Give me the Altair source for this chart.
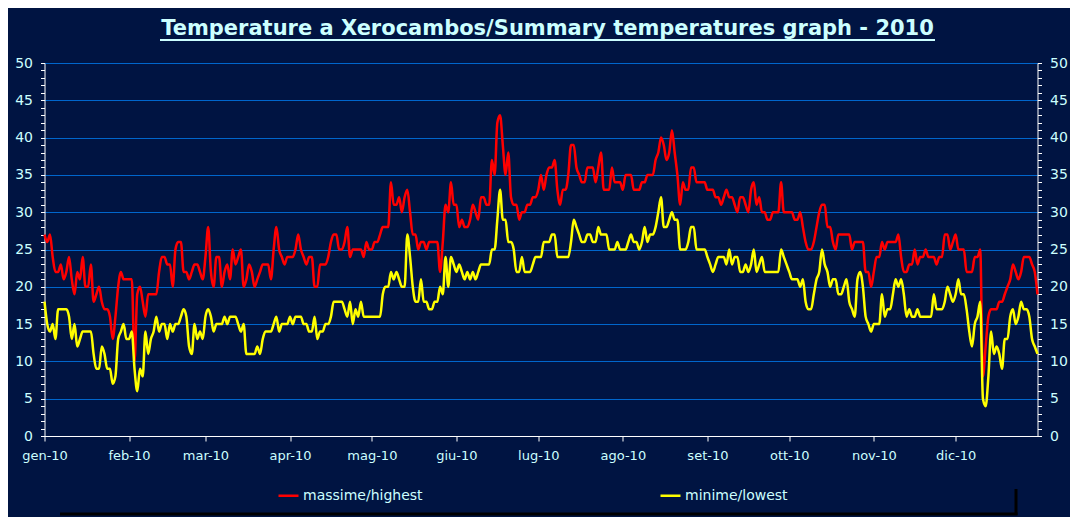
import altair as alt
import pandas as pd

TITLE = "Temperature a Xerocambos/Summary temperatures graph - 2010"
SERIES = ["massime/highest", "minime/lowest"]
COLORS = ["#FF0000", "#FFFF00"]
MONTH_LABELS = ["gen-10", "feb-10", "mar-10", "apr-10", "mag-10", "giu-10",
                "lug-10", "ago-10", "set-10", "ott-10", "nov-10", "dic-10"]

# daily maxima (red), one list per month
high_gen = [27,26,27,24,22,22,23,21,22,24,21,19,22,21,24,20,20,23,18,19,20,18,17,17,16,13,16,20,22,21,21]
high_feb = [21,21,10,19,20,18,16,19,19,19,19,22,24,24,23,23,20,25,26,26,22,22,21,22,23,23,22,21]
high_mar = [24,28,22,20,24,24,20,22,23,21,25,23,24,25,20,21,23,22,20,21,22,23,23,23,21,25,28,25,24,23,24]
high_apr = [24,24,25,27,25,24,23,24,24,20,20,23,23,23,24,26,27,27,25,25,26,28,24,25,25,25,25,24,26,25]
high_mag = [25,26,26,27,28,28,28,34,31,31,32,30,32,33,30,27,27,25,26,26,25,26,26,26,26,22,26,31,30,34,31]
high_giu = [31,28,29,28,28,29,31,30,29,32,32,31,31,37,35,42,43,39,35,38,32,31,31,29,30,30,31,31,32,32]
high_lug = [33,35,33,35,36,36,37,33,31,33,33,35,39,39,36,35,34,34,36,36,36,34,36,38,33,33,33,36,34,34,34]
high_ago = [33,35,35,35,33,33,33,34,34,35,35,35,37,38,40,39,37,38,41,38,35,31,34,33,33,36,36,34,34,34,34]
high_set = [33,33,33,32,32,31,32,33,32,32,31,30,32,32,31,30,33,34,31,32,30,30,29,29,30,30,30,34,30,30]
high_ott = [30,30,29,29,30,28,26,25,25,26,28,30,31,31,28,28,26,25,27,27,27,27,27,25,26,26,26,26,22,22,20]
high_nov = [22,24,24,26,25,26,26,26,26,27,24,22,22,23,23,25,23,24,24,25,24,24,24,23,24,24,27,27,25,26]
high_dic = [27,25,25,25,22,22,22,24,24,25,8,12,16,17,17,17,18,18,19,20,21,23,22,21,22,24,24,24,23,22,19]

# daily minima (yellow), one list per month
low_gen = [18,15,14,15,13,17,17,17,17,16,13,15,12,13,14,14,14,14,11,9,9,12,11,9,9,7,8,13,14,15,13]
low_feb = [13,14,9,6,9,8,14,11,13,14,16,14,15,15,13,15,14,15,15,16,17,16,12,11,15,13,14,13]
low_mar = [16,17,16,14,15,15,15,16,15,16,16,16,15,14,15,11,11,11,11,12,11,13,14,14,14,15,16,14,15,15,15]
low_apr = [16,15,16,16,16,15,15,14,14,16,13,14,14,15,15,16,18,18,18,18,17,16,18,15,17,16,18,16,16,16]
low_mag = [16,16,16,16,19,20,20,22,21,22,21,20,20,27,24,20,18,18,21,18,18,17,17,18,18,20,19,24,20,24,23]
low_giu = [22,23,22,21,22,21,22,21,22,23,23,23,23,25,25,29,33,29,29,26,26,25,22,22,24,22,22,22,23,24]
low_lug = [24,24,26,26,26,27,27,24,24,24,24,24,26,29,28,27,26,26,27,27,26,26,28,27,27,27,25,25,25,26,25]
low_ago = [25,25,26,27,26,26,25,26,28,26,27,27,28,30,32,28,28,29,30,29,29,25,25,25,26,28,28,25,25,25,25]
low_set = [24,23,22,23,24,24,24,23,25,23,24,24,22,22,23,22,23,25,22,23,24,22,22,22,22,22,22,25,24,23]
low_ott = [22,21,21,21,20,21,18,17,17,19,21,22,25,23,22,20,21,21,19,19,20,21,18,17,16,21,22,20,16,15,14]
low_nov = [15,15,15,19,16,17,17,19,21,20,21,19,16,17,16,16,17,16,16,16,16,16,19,17,17,17,18,20,19,18]
low_dic = [19,21,19,19,17,14,12,15,16,18,5,4,8,14,11,12,11,9,13,13,16,17,15,16,18,17,17,16,13,12,11]

HIGH = [high_gen, high_feb, high_mar, high_apr, high_mag, high_giu,
        high_lug, high_ago, high_set, high_ott, high_nov, high_dic]
LOW = [low_gen, low_feb, low_mar, low_apr, low_mag, low_giu,
       low_lug, low_ago, low_set, low_ott, low_nov, low_dic]

rows = []
month_starts = []
day = 0
for hm, lm in zip(HIGH, LOW):
    month_starts.append(day)
    for h, l in zip(hm, lm):
        rows.append({"day": day, "series": SERIES[0], "temp": h})
        rows.append({"day": day, "series": SERIES[1], "temp": l})
        day += 1
last_day = day - 1
df = pd.DataFrame(rows)

BG = "#001442"
GRID = "#0066CC"
LBL = "#CCFFFF"
FONT = "DejaVu Sans"

x_label_expr = "[" + ",".join("'%s'" % m for m in MONTH_LABELS) + "][indexof([" + \
    ",".join(str(s) for s in month_starts) + "], datum.value)]"

x_enc = alt.X("day:Q",
              scale=alt.Scale(domain=[0, last_day], nice=False, zero=False),
              axis=alt.Axis(values=month_starts, labelExpr=x_label_expr, title=None,
                            grid=False, domainColor="white", tickColor="white",
                            tickSize=5, labelPadding=8, labelColor=LBL,
                            labelFont=FONT, labelFontSize=13, labelOverlap=False,
                            labelFlush=False, labelBound=False))

y_common = dict(values=list(range(0, 51)),
                labelExpr="datum.value % 5 === 0 ? datum.label : ''",
                title=None, tickSize=4, labelPadding=8, domainColor="white",
                tickColor="white", labelColor=LBL, labelFont=FONT,
                labelFontSize=14, labelOverlap=False, labelFlush=False)
y_scale = alt.Scale(domain=[0, 50], nice=False, zero=True)

y_left = alt.Y("temp:Q", scale=y_scale,
               axis=alt.Axis(orient="left", grid=True, gridColor=GRID, gridWidth=1,
                             gridOpacity={"condition": {"test": "datum.value % 5 === 0", "value": 1}, "value": 0},
                             **y_common))
y_right = alt.Y("temp:Q", scale=y_scale,
                axis=alt.Axis(orient="right", grid=False, **y_common))

lines = alt.Chart(df).mark_line(strokeWidth=2.5, interpolate="monotone").encode(
    x=x_enc,
    y=y_left,
    color=alt.Color("series:N",
                    scale=alt.Scale(domain=SERIES, range=COLORS),
                    legend=alt.Legend(orient="none", legendX=232.5, legendY=421,
                                      direction="horizontal", title=None,
                                      symbolType="stroke", symbolStrokeWidth=2.5,
                                      symbolSize=400, labelColor=LBL, labelFont=FONT,
                                      labelFontSize=14, columnPadding=232,
                                      labelOffset=3, padding=0)),
    order=alt.Order("day:Q"),
)

right_axis = alt.Chart(df).mark_line(opacity=0).encode(x=x_enc, y=y_right, detail="series:N")

deco = pd.DataFrame({"k": [0]})
title_txt = alt.Chart(deco).mark_text(text=TITLE, font=FONT, fontSize=21, fontWeight="bold",
                                      color=LBL, align="center", baseline="alphabetic").encode(
    x=alt.value(503), y=alt.value(-28))
underline = alt.Chart(deco).mark_rule(color=LBL, strokeWidth=2).encode(
    x=alt.value(115.5), x2=alt.value(890.5), y=alt.value(-23))
shadow_h = alt.Chart(deco).mark_rule(color="black", strokeWidth=3).encode(
    x=alt.value(15.5), x2=alt.value(973), y=alt.value(451))
shadow_v = alt.Chart(deco).mark_rule(color="black", strokeWidth=3).encode(
    x=alt.value(971.5), y=alt.value(426), y2=alt.value(452))

chart = alt.layer(lines, right_axis, title_txt, underline, shadow_h, shadow_v).resolve_axis(
    y="independent"
).properties(
    width=993, height=373,
    background=BG,
    padding={"left": 36.5, "top": 55, "right": 32.5, "bottom": 81},
    autosize=alt.AutoSizeParams(type="none"),
).configure_view(stroke=None)

chart.save("out.html", embed_options={"renderer": "svg", "actions": False})
